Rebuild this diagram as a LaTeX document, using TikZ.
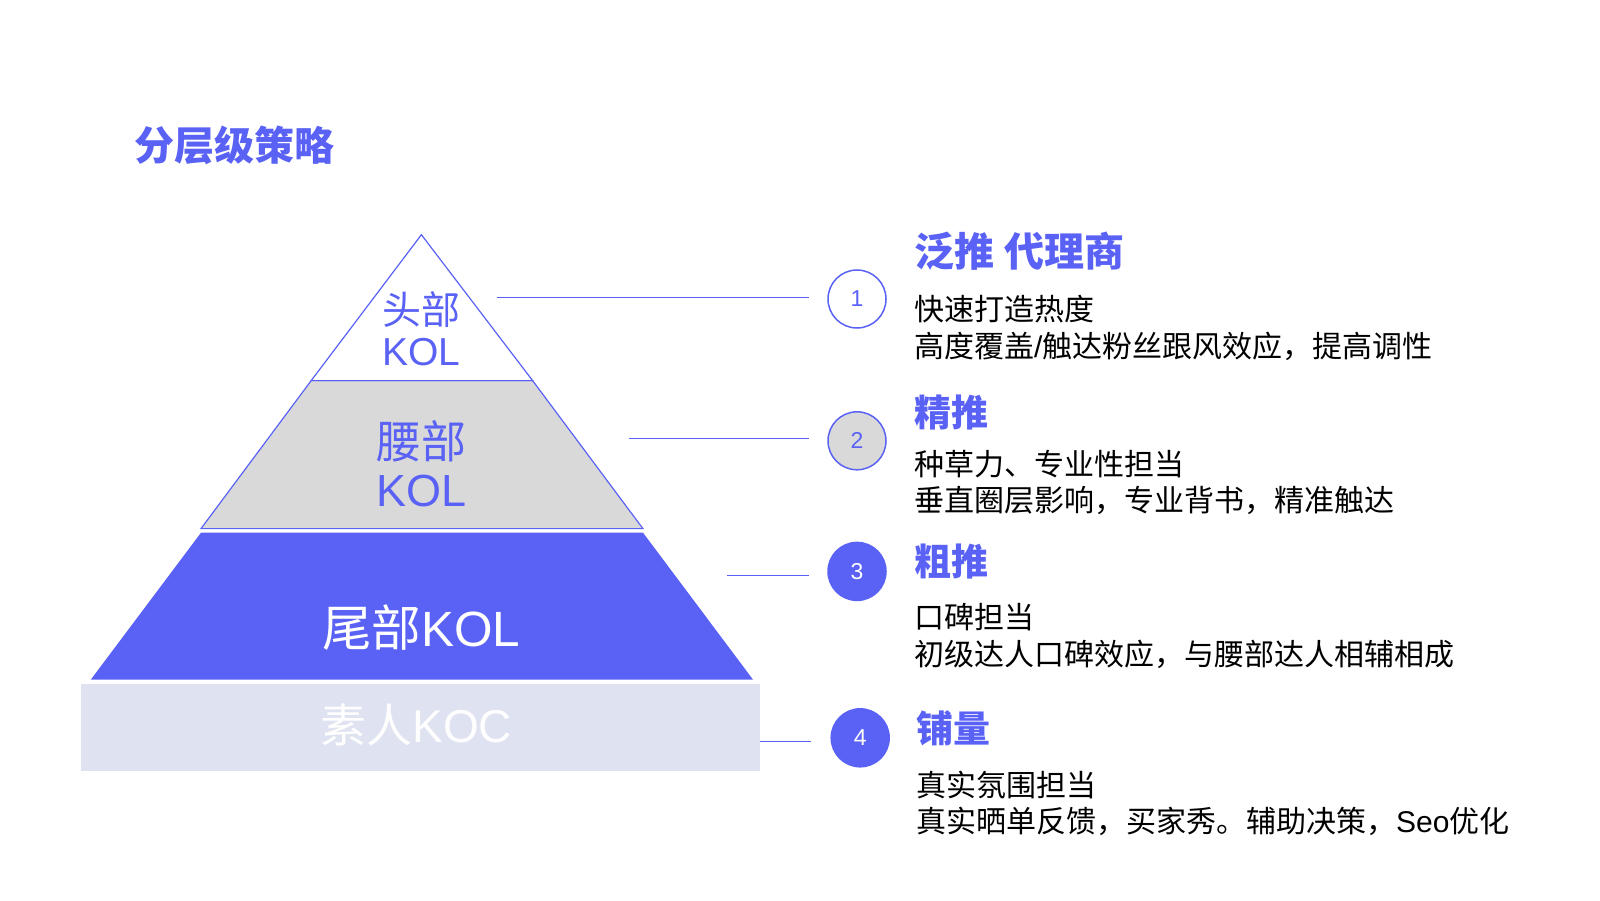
\documentclass[tikz,border=0pt]{standalone}
\usepackage{fontspec}
\setmainfont{Noto Sans CJK SC}
\newfontfamily\latf{Liberation Sans}
\newcommand{\lat}[1]{{\latf #1}}
\definecolor{pblue}{HTML}{5A62F5}
\definecolor{pgray}{HTML}{D9D9D9}
\definecolor{plav}{HTML}{DFE3F1}
\tikzset{
  conn/.style={draw=pblue, line width=1pt},
  numc/.style={circle, minimum size=58pt, inner sep=0pt, draw=pblue, line width=1.5pt, font=\latf\fontsize{23}{23}\selectfont},
  head/.style={anchor=west, inner sep=0pt, text=pblue, font=\fontsize{37}{37}\selectfont\bfseries},
  body/.style={anchor=west, inner sep=0pt, text=black, font=\fontsize{30}{30}\selectfont},
  tier/.style={inner sep=0pt, align=center}
}
\begin{document}
\begin{tikzpicture}[x=1pt,y=-1pt]
\useasboundingbox (0,0) rectangle (1600,900);
% title
\node[anchor=west, inner sep=0pt, text=pblue, font=\fontsize{40}{40}\selectfont\bfseries] (title) at (134,145) {分层级策略};
% pyramid
\path[fill=pgray, draw=pblue, line width=1.2pt] (311.2,380.6) -- (532.6,380.6) -- (642.9,528.6) -- (201,528.6) -- cycle;
\path[fill=white, draw=pblue, line width=1.2pt] (421.4,234.7) -- (532.6,380.6) -- (311.2,380.6) -- cycle;
\path[fill=pblue] (201,532.7) -- (643,532.7) -- (753,679.6) -- (90.8,679.6) -- cycle;
\path[fill=plav] (80.6,683.7) rectangle (760.2,771.4);
% tier labels
\node[tier, text=pblue, font=\fontsize{39}{43}\selectfont] (t1) at (421.4,329) {头部\\[-2pt]\lat{KOL}};
\node[tier, text=pblue, font=\fontsize{45}{50}\selectfont] (t2) at (421.4,464) {腰部\\[-2pt]\lat{KOL}};
\node[tier, text=white, font=\fontsize{49.5}{49.5}\selectfont] (t3) at (421.4,627.6) {尾部\lat{KOL}};
\node[tier, text=white!96!plav, font=\fontsize{46}{46}\selectfont] (t4) at (416.3,724.5) {素人\lat{KOC}};
% circles
\node[numc, fill=white, text=pblue] (c1) at (857,299) {1};
\node[numc, fill=pgray, text=pblue] (c2) at (857,440.8) {2};
\node[numc, fill=pblue, draw=pblue, text=white] (c3) at (857,571.4) {3};
\node[numc, fill=pblue, draw=pblue, text=white] (c4) at (860.2,737.8) {4};
% connectors
\coordinate (p1) at (497,297);   \coordinate (q1) at (809,297);
\coordinate (p2) at (628.6,438.8); \coordinate (q2) at (809,438.8);
\coordinate (p3) at (726.5,575.5); \coordinate (q3) at (809,575.5);
\coordinate (p4) at (760.2,741.8); \coordinate (q4) at (811,741.8);
\draw[conn] (p1) -- (q1);
\draw[conn] (p2) -- (q2);
\draw[conn] (p3) -- (q3);
\draw[conn] (p4) -- (q4);
% texts
\node[head, font=\fontsize{40}{40}\selectfont\bfseries] (h1) at (914,251) {泛推\hspace{10pt}代理商};
\node[body] (b1a) at (914,309.2) {快速打造热度};
\node[body] (b1b) at (914,346) {高度覆盖\lat{/}触达粉丝跟风效应，提高调性};
\node[head] (h2) at (914,412) {精推};
\node[body] (b2a) at (914,464.3) {种草力、专业性担当};
\node[body] (b2b) at (914,500) {垂直圈层影响，专业背书，精准触达};
\node[head] (h3) at (914,561.2) {粗推};
\node[body] (b3a) at (914,617.3) {口碑担当};
\node[body] (b3b) at (914,654) {初级达人口碑效应，与腰部达人相辅相成};
\node[head] (h4) at (916,728.6) {铺量};
\node[body] (b4a) at (916,784.7) {真实氛围担当};
\node[body] (b4b) at (916,821.4) {真实晒单反馈，买家秀。辅助决策，\lat{Seo}优化};
\end{tikzpicture}
\end{document}
